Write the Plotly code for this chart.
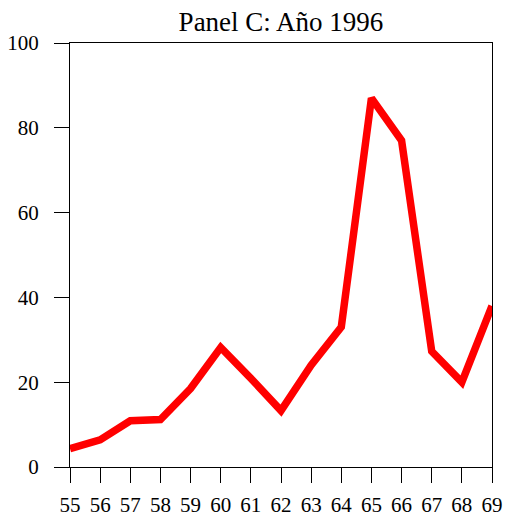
import plotly.graph_objects as go

edades = [55, 56, 57, 58, 59, 60, 61, 62, 63, 64, 65, 66, 67, 68, 69]
valores = [4.3, 6.4, 10.9, 11.2, 18.5, 28.2, 20.9, 13.3, 24.0, 33.0, 87.0, 77.0, 27.3, 20.0, 38.0]
y_ticks = [0, 20, 40, 60, 80, 100]
titulo = "Panel C: Año 1996"

fig = go.Figure()
fig.add_trace(go.Scatter(
    x=edades, y=valores, mode="lines",
    line=dict(color="#ff0000", width=7.5),
    showlegend=False,
))

axis_common = dict(
    showline=True, linecolor="black", linewidth=1.2, mirror=True,
    ticks="outside", ticklen=15, tickwidth=1.2, tickcolor="black",
    showgrid=False, zeroline=False, automargin=False,
    tickfont=dict(family="Liberation Serif", size=21, color="black"),
)

fig.update_xaxes(range=[55, 69], tickvals=edades, ticktext=[str(e) for e in edades],
                 ticklabelstandoff=4, **axis_common)
fig.update_yaxes(range=[0, 100], tickvals=y_ticks, ticklabelstandoff=11, **axis_common)

fig.update_layout(
    width=505, height=519,
    margin=dict(l=69.5, r=12.5, t=43.3, b=52.3),
    paper_bgcolor="white", plot_bgcolor="white",
    title=dict(text=titulo, x=0.5, xref="paper", y=1 - 22 / 519, yref="container",
               xanchor="center", yanchor="middle",
               font=dict(family="Liberation Serif", size=27, color="black")),
)

fig.write_html(
    "out.html",
    config={"displayModeBar": False},
    post_script="document.body.style.margin='0px';document.body.style.overflow='hidden';",
)
